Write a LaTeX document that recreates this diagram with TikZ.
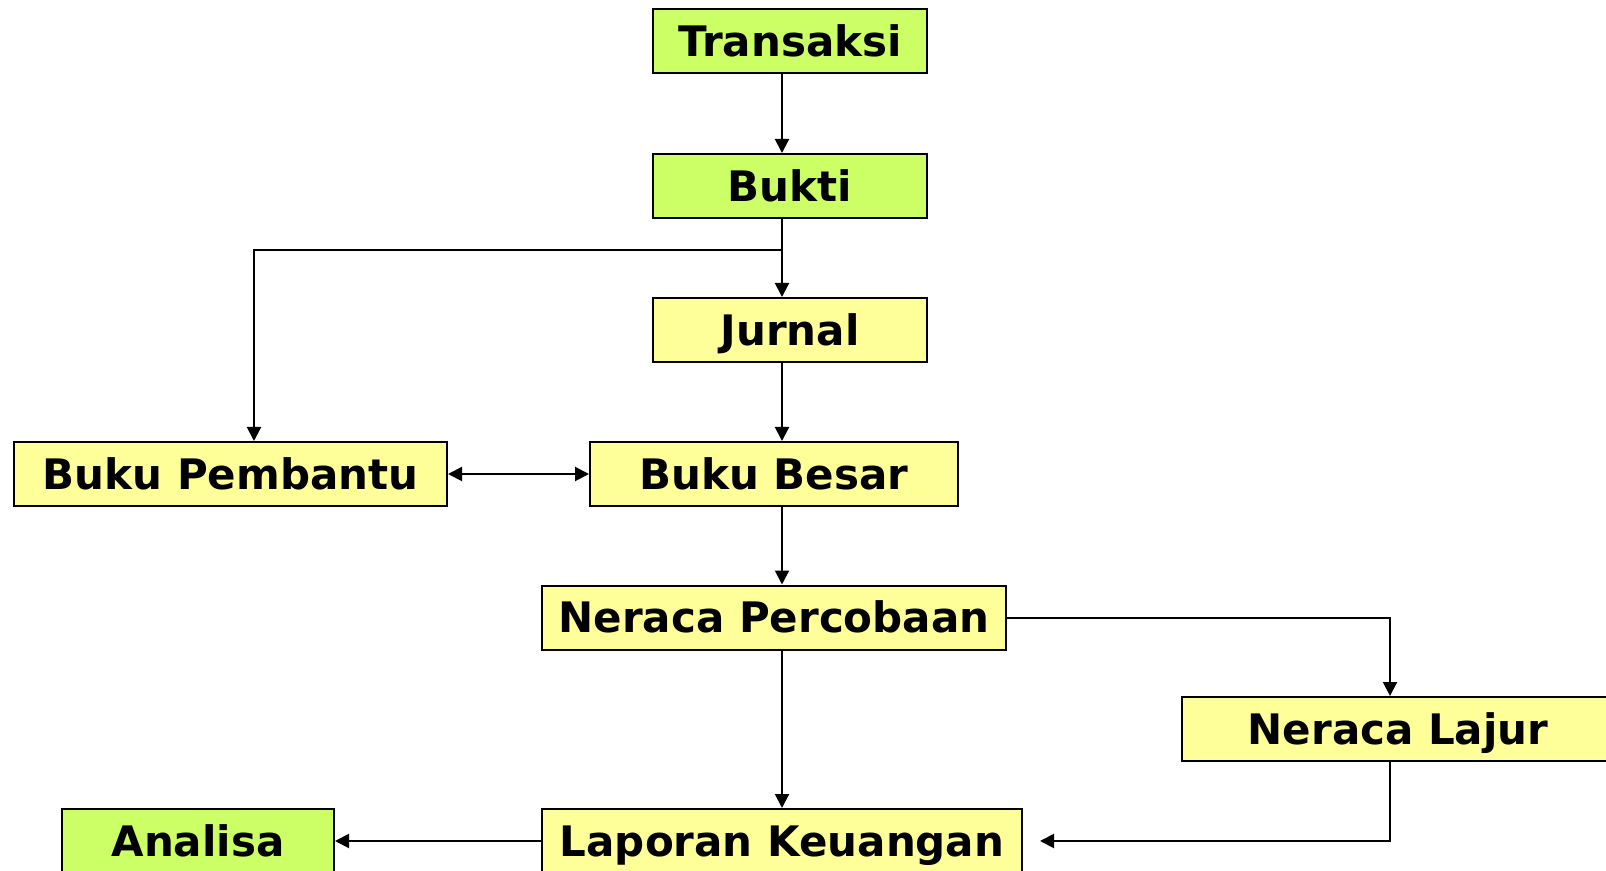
\documentclass[tikz,border=0pt]{standalone}
\usepackage{fontspec}
\setmainfont{DejaVu Sans}
\usetikzlibrary{arrows.meta}
\definecolor{boxgreen}{HTML}{CCFF66}
\definecolor{boxyellow}{HTML}{FFFF99}
\begin{document}
\begin{tikzpicture}[x=0.5pt,y=-0.5pt,
  box/.style={draw=black,line width=1pt,rectangle,inner sep=0pt,
    minimum height=32pt,text height=15.3pt,text depth=0pt,
    font=\fontsize{21}{24}\selectfont\bfseries},
  gbox/.style={box,fill=boxgreen},
  ybox/.style={box,fill=boxyellow},
  arr/.style={line width=1pt,-{Triangle[length=7pt,width=7pt]}},
  darr/.style={line width=1pt,{Triangle[length=7pt,width=7pt]}-{Triangle[length=7pt,width=7pt]}}]
\useasboundingbox (0,0) rectangle (1606,871);
\node[gbox,minimum width=137pt] (transaksi) at (790,41) {Transaksi};
\node[gbox,minimum width=137pt] (bukti) at (790,186) {Bukti};
\node[ybox,minimum width=137pt] (jurnal) at (790,330) {Jurnal};
\node[ybox,minimum width=216.5pt] (pembantu) at (230.5,474) {Buku Pembantu};
\node[ybox,minimum width=184pt] (besar) at (774,474) {Buku Besar};
\node[ybox,minimum width=232pt] (percobaan) at (774,617.5) {Neraca Percobaan};
\node[ybox,minimum width=216pt] (lajur) at (1398,729) {Neraca Lajur};
\node[ybox,minimum width=240pt] (laporan) at (782,841) {Laporan Keuangan};
\node[gbox,minimum width=136pt] (analisa) at (198,841) {Analisa};
\coordinate (cx) at (782,0);
\coordinate (rx) at (1390,0);
\coordinate (bl) at (254,250);
\coordinate (lapend) at (1040,841);
\draw[arr] (transaksi.south -| cx) -- (bukti.north -| cx);
\draw[arr] (bukti.south -| cx) -- (jurnal.north -| cx);
\draw[arr] (bl -| cx) -- (bl) -- (pembantu.north -| bl);
\draw[arr] (jurnal.south -| cx) -- (besar.north -| cx);
\draw[darr] (pembantu.east) -- (besar.west);
\draw[arr] (besar.south -| cx) -- (percobaan.north -| cx);
\draw[arr] (percobaan.east) -| (lajur.north -| rx);
\draw[arr] (percobaan.south -| cx) -- (laporan.north -| cx);
\draw[arr] (lajur.south -| rx) |- (lapend);
\draw[arr] (laporan.west) -- (analisa.east);
\end{tikzpicture}
\end{document}
